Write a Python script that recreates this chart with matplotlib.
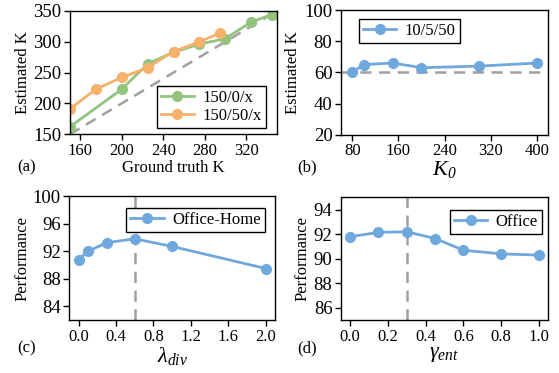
import matplotlib
matplotlib.use("Agg")
import matplotlib.pyplot as plt

plt.rcParams["font.family"] = ["Liberation Serif", "DejaVu Serif"]
plt.rcParams["mathtext.fontset"] = "custom"
plt.rcParams["mathtext.rm"] = "Liberation Serif"
plt.rcParams["mathtext.it"] = "Liberation Serif:italic"
plt.rcParams["mathtext.sf"] = "Liberation Serif:italic"
plt.rcParams["font.size"] = 12

green = "#93c47d"
orange = "#f6b26b"
blue = "#6fa8dc"
grey = "#a0a0a0"

# (a) estimated K vs ground truth K
gt_green = [150, 200, 225, 250, 275, 300, 325, 345]
est_green = [162, 223, 264, 283, 296, 305, 332, 344]
gt_orange = [150, 175, 200, 225, 250, 275, 295]
est_orange = [191, 223, 242, 258, 284, 300, 314]
diag = [150, 345]

# (b) estimated K vs K0
k0 = [80, 100, 150, 200, 300, 400]
est_k0 = [60, 65, 66, 63, 64, 66]
true_k = 60

# (c) lambda_div
lam = [0.0, 0.1, 0.3, 0.6, 1.0, 2.0]
perf_lam = [90.8, 92.0, 93.25, 93.8, 92.7, 89.5]
lam_best = 0.6

# (d) gamma_ent
gam = [0.0, 0.15, 0.3, 0.45, 0.6, 0.8, 1.0]
perf_gam = [91.8, 92.15, 92.2, 91.65, 90.7, 90.4, 90.3]
gam_best = 0.3

fig = plt.figure(figsize=(5.59, 3.73), dpi=100)
ax_a = fig.add_axes([0.125, 0.640, 0.371, 0.331])
ax_b = fig.add_axes([0.6095, 0.639, 0.3715, 0.334])
ax_c = fig.add_axes([0.124, 0.1413, 0.368, 0.3332])
ax_d = fig.add_axes([0.6095, 0.1413, 0.3715, 0.3297])

line_kw = dict(marker="o", markersize=7, linewidth=2)
dash_kw = dict(color=grey, linestyle="--", linewidth=1.8, dashes=(4.5, 3))
leg_kw = dict(fancybox=False, edgecolor="black", fontsize=12, borderpad=0.25,
              handlelength=2.0, handletextpad=0.5, labelspacing=0.1,
              borderaxespad=0, framealpha=1)

ax_a.plot(diag, diag, zorder=1, **dash_kw)
ax_a.plot(gt_green, est_green, color=green, label="150/0/x", **line_kw)
ax_a.plot(gt_orange, est_orange, color=orange, label="150/50/x", **line_kw)
ax_a.set_xlim(150, 350)
ax_a.set_ylim(150, 350)
ax_a.set_xticks([160, 200, 240, 280, 320])
ax_a.set_yticks([150, 200, 250, 300, 350])
ax_a.set_xlabel("Ground truth K", labelpad=1)
ax_a.set_ylabel("Estimated K", labelpad=2)
ax_a.legend(loc="lower right", bbox_to_anchor=(0.945, 0.05), **leg_kw)

ax_b.axhline(true_k, zorder=1, **dash_kw)
ax_b.plot(k0, est_k0, color=blue, label="10/5/50", **line_kw)
ax_b.set_xlim(60, 420)
ax_b.set_ylim(20, 100)
ax_b.set_xticks([80, 160, 240, 320, 400])
ax_b.set_yticks([20, 40, 60, 80, 100])
ax_b.set_xlabel(r"$K_{\mathsf{0}}$", fontsize=16, labelpad=0)
ax_b.set_ylabel("Estimated K", labelpad=2)
ax_b.legend(loc="upper left", bbox_to_anchor=(0.088, 0.928), **leg_kw)

ax_c.axvline(lam_best, zorder=1, **dash_kw)
ax_c.plot(lam, perf_lam, color=blue, label="Office-Home", **line_kw)
ax_c.set_xlim(-0.1, 2.1)
ax_c.set_ylim(82, 100)
ax_c.set_xticks([0.0, 0.4, 0.8, 1.2, 1.6, 2.0])
ax_c.set_yticks([84, 88, 92, 96, 100])
ax_c.set_xlabel(r"$\lambda_{div}$", fontsize=16, labelpad=0)
ax_c.set_ylabel("Performance", labelpad=2)
ax_c.legend(loc="upper right", bbox_to_anchor=(0.951, 0.903), **leg_kw)

ax_d.axvline(gam_best, zorder=1, **dash_kw)
ax_d.plot(gam, perf_gam, color=blue, label="Office", **line_kw)
ax_d.set_xlim(-0.05, 1.05)
ax_d.set_ylim(85, 95)
ax_d.set_xticks([0.0, 0.2, 0.4, 0.6, 0.8, 1.0])
ax_d.set_yticks([86, 88, 90, 92, 94])
ax_d.set_xlabel(r"$\gamma_{ent}$", fontsize=16, labelpad=0)
ax_d.set_ylabel("Performance", labelpad=2)
ax_d.legend(loc="upper right", bbox_to_anchor=(0.970, 0.897), **leg_kw)

for ax in (ax_a, ax_b, ax_c, ax_d):
    ax.tick_params(axis="x", labelsize=12, length=4, width=1, pad=2)
    ax.tick_params(axis="y", labelsize=13.5, length=4, width=1, pad=2)
    for s in ax.spines.values():
        s.set_linewidth(1)

fig.text(0.030, 0.55, "(a)", fontsize=12, va="center")
fig.text(0.531, 0.55, "(b)", fontsize=12, va="center")
fig.text(0.030, 0.067, "(c)", fontsize=12, va="center")
fig.text(0.531, 0.067, "(d)", fontsize=12, va="center")

fig.savefig("out.png", dpi=100)
